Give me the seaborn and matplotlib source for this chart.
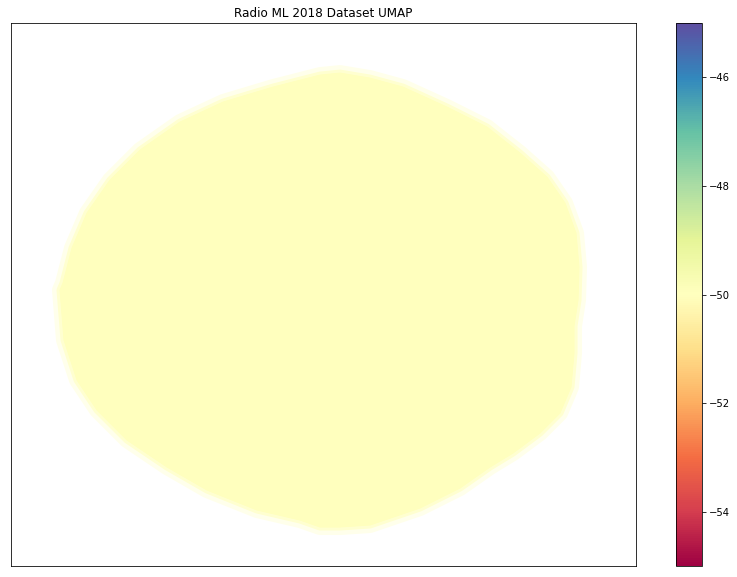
import numpy as np
import matplotlib
matplotlib.use("Agg")
import matplotlib.pyplot as plt
import matplotlib.colors as mcolors
import seaborn as sns

# Outline of the UMAP point cloud (embedding units, clockwise from top)
blob_x = [309, 329, 359, 392, 436, 476, 509, 536, 554, 565, 568, 567, 563, 563, 560, 549,
          529, 502, 479, 449, 409, 359, 329, 309, 289, 246, 196, 156, 116, 86, 66, 53,
          49, 52, 61, 76, 99, 129, 169, 212, 262]
blob_y = [491, 493, 488, 479, 459, 439, 413, 389, 363, 333, 299, 266, 240, 213, 179, 153,
          133, 113, 99, 78, 58, 41, 39, 39, 46, 56, 76, 99, 126, 156, 186, 226,
          276, 283, 318, 353, 386, 416, 444, 464, 479]
# every sample in the dataset has the same SNR label
snr_value = -50
x_range = [0, 625]
y_range = [0, 543]

sns.set_style("ticks", {"text.color": "black", "axes.edgecolor": "black",
                        "xtick.color": "black", "ytick.color": "black"})

fig = plt.figure(figsize=(737 / 72, 577 / 72), dpi=72)
ax = fig.add_axes([0.0149, 0.019, 0.8481, 0.941])
cax = fig.add_axes([0.9172, 0.019, 0.0353, 0.941])

cmap = sns.color_palette("Spectral", as_cmap=True)
norm = mcolors.Normalize(vmin=snr_value - 5, vmax=snr_value + 5)
point_color = cmap(norm(snr_value))

# soft fringe of sparse points around the dense core
ax.fill(blob_x, blob_y, color=point_color, alpha=0.3, lw=16, ec=point_color, joinstyle="round")
ax.fill(blob_x, blob_y, color=point_color, alpha=0.6, lw=7, ec=point_color, joinstyle="round")
ax.fill(blob_x, blob_y, color=point_color, lw=1, ec=point_color, joinstyle="round")

ax.set_xlim(x_range)
ax.set_ylim(y_range)
ax.set_xticks([])
ax.set_yticks([])
for sp in ax.spines.values():
    sp.set_linewidth(0.8)
ax.set_title("Radio ML 2018 Dataset UMAP", fontsize=12)

sm = plt.cm.ScalarMappable(norm=norm, cmap=cmap)
cb = fig.colorbar(sm, cax=cax)
cb.outline.set_edgecolor("black")
cb.outline.set_linewidth(0.8)
cax.tick_params(labelsize=10, colors="black", length=3.5)

fig.savefig("out.png", dpi=72)
